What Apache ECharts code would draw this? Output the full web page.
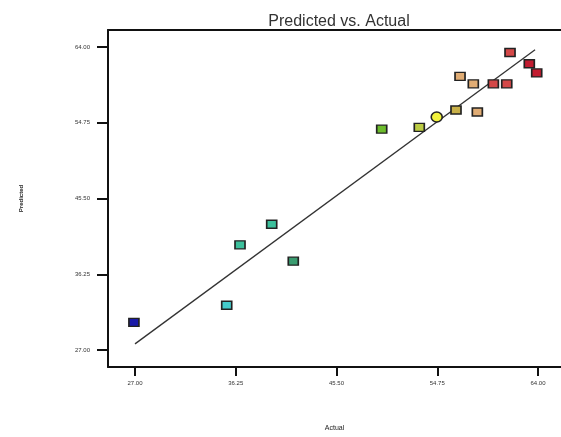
<!DOCTYPE html>
<html>
<head>
<meta charset="utf-8">
<script src="https://cdn.jsdelivr.net/npm/echarts@6/dist/echarts.min.js"></script>
<style>
  html, body { margin: 0; padding: 0; background: #fff; }
  #chart { width: 561px; height: 437px; }
</style>
</head>
<body>
<div id="chart"></div>
<script>
  // values (actual, predicted)
  const actual = [26.9, 35.42, 36.64, 39.55, 41.53, 49.65, 53.10, 54.70, 56.47, 56.84, 58.06, 58.43, 59.90, 61.13, 61.43, 63.20, 63.88];
  const predicted = [30.38, 32.48, 39.85, 42.36, 37.85, 53.96, 54.17, 55.45, 56.30, 60.41, 59.49, 56.06, 59.49, 59.49, 63.31, 61.94, 60.82];
  const tickValues = [27.00, 36.25, 45.50, 54.75, 64.00];
  const fitLine = [[27.0, 27.76], [63.73, 63.64]];

  const points = actual.map((a, i) => [a, predicted[i]]);
  const fmt = v => v.toFixed(2);

  const chart = echarts.init(document.getElementById("chart"));
  chart.setOption({
    animation: false,
    backgroundColor: "#fff",
    title: {
      text: "Predicted vs. Actual",
      left: 334,
      textAlign: "center",
      top: 9,
      textStyle: { fontFamily: "Arial, Liberation Sans", fontSize: 16, fontWeight: "normal", color: "#333" },
    },
    grid: { left: 108, right: 0, top: 30, bottom: 67 },
    xAxis: [
      {
        type: "value",
        min: 24.52,
        max: 66.11,
        name: "Actual",
        nameLocation: "middle",
        nameGap: 58,
        nameTextStyle: { fontFamily: "Arial, Liberation Sans", fontSize: 7, color: "#222", padding: [0, 0, 0, 0] },
        splitLine: { show: false },
        axisLine: { lineStyle: { color: "#111", width: 2 } },
        axisTick: { customValues: tickValues, length: 9, lineStyle: { color: "#111", width: 2 } },
        axisLabel: { customValues: tickValues, formatter: fmt, fontSize: 6, color: "#333", margin: 13, fontFamily: "Arial, Liberation Sans" },
      },
      {
        type: "value",
        position: "top",
        min: 24.52,
        max: 66.11,
        splitLine: { show: false },
        axisLine: { lineStyle: { color: "#111", width: 2 } },
        axisTick: { show: false },
        axisLabel: { show: false },
      },
    ],
    yAxis: {
      type: "value",
      min: 24.94,
      max: 66.06,
      name: "Predicted",
      nameLocation: "middle",
      nameGap: 84,
      nameTextStyle: { fontFamily: "Arial, Liberation Sans", fontSize: 6, fontWeight: "bold", color: "#222" },
      splitLine: { show: false },
      axisLine: { lineStyle: { color: "#111", width: 2 } },
      axisTick: { customValues: tickValues, length: 11, lineStyle: { color: "#111", width: 2 } },
      axisLabel: { customValues: tickValues, formatter: fmt, fontSize: 6, color: "#333", margin: 18, fontFamily: "Arial, Liberation Sans" },
    },
    visualMap: {
      show: false,
      type: "piecewise",
      seriesIndex: 1,
      dimension: 0,
      pieces: [
        { lt: 33, color: "#1a1aa8" },
        { gte: 33, lt: 36, color: "#44cccc" },
        { gte: 36, lt: 40.5, color: "#3cc09c" },
        { gte: 40.5, lt: 45, color: "#3a9c70" },
        { gte: 45, lt: 52, color: "#6cbc2c" },
        { gte: 52, lt: 54, color: "#bccc44" },
        { gte: 54, lt: 56, color: "#f2f23c" },
        { gte: 56, lt: 56.7, color: "#c8b048" },
        { gte: 56.7, lt: 59, color: "#e0ac74" },
        { gte: 59, lt: 62, color: "#d44848" },
        { gte: 62, color: "#c21c30" },
      ],
    },
    series: [
      {
        type: "line",
        data: fitLine,
        symbol: "none",
        silent: true,
        lineStyle: { color: "#333", width: 1.3 },
        z: 1,
      },
      {
        type: "scatter",
        data: points,
        symbol: v => (v[0] > 54 && v[0] < 55.5 ? "circle" : "rect"),
        symbolSize: v => (v[0] > 54 && v[0] < 55.5 ? [11, 10] : [10, 8]),
        itemStyle: { borderColor: "#222", borderWidth: 1.5, opacity: 1 },
        z: 3,
      },
    ],
  });
</script>
</body>
</html>
